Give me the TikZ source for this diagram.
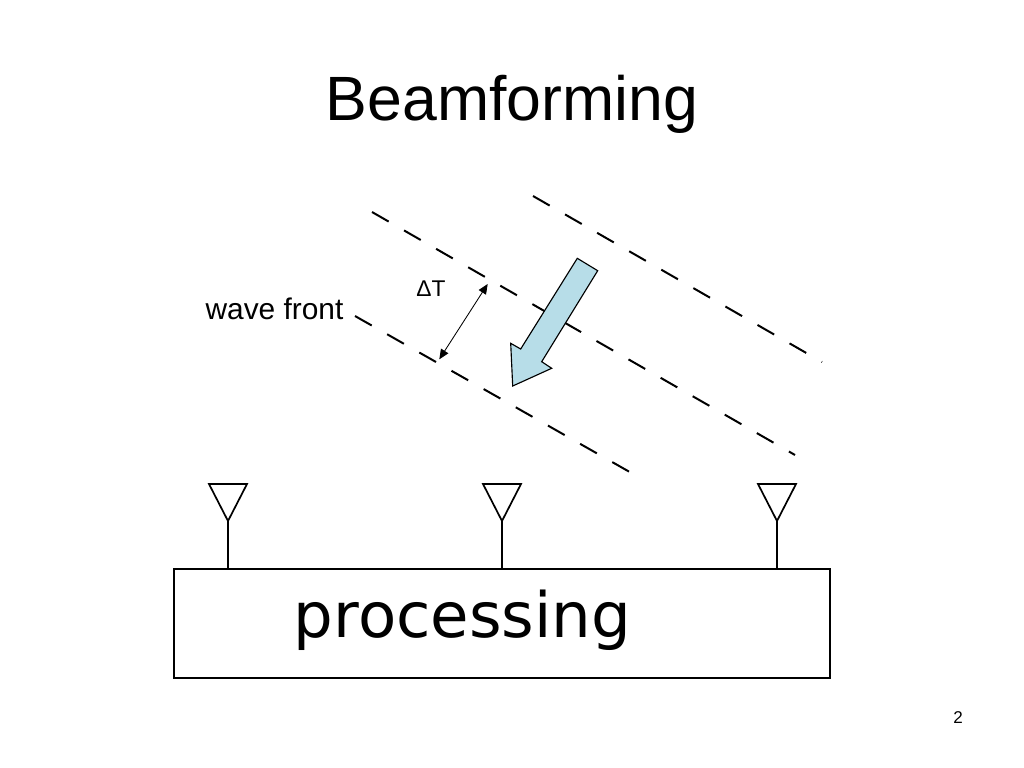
\documentclass[tikz,border=0pt]{standalone}
\usepackage{fontspec}
\setmainfont{Liberation Sans}
\newfontfamily\procfont{DejaVu Sans}
\usetikzlibrary{arrows.meta}
\definecolor{beamblue}{RGB}{183,221,232}
\tikzset{
	wavefront/.style={line width=1.4pt,dash pattern=on 13.5pt off 12.5pt},
	antenna/.style={line width=1.2pt,line join=miter},
}
\begin{document}
\begin{tikzpicture}[x=0.703pt,y=-0.703pt]
	\useasboundingbox (0,0) rectangle (1024,768);
	\node[anchor=base] (title) at (512,120) {\fontsize{44}{50}\selectfont Beamforming};
	% wave fronts
	\draw[wavefront] (533,196) -- (822,362);
	\draw[wavefront] (372,212) -- (795,455);
	\draw[wavefront] (355,316) -- (635,475);
	\node[anchor=base] (wave) at (274.5,319) {\fontsize{21}{25}\selectfont wave front};
	% delay between fronts
	\coordinate (dtA) at (487.7,284);
	\coordinate (dtB) at (439.3,359.3);
	\draw[{Triangle[length=7pt,width=6pt]}-{Triangle[length=7pt,width=6pt]},line width=0.6pt] (dtB) -- (dtA);
	\node[anchor=base] (dt) at (431,296) {\fontsize{16}{19}\selectfont ΔT};
	% direction of arrival
	\draw[fill=beamblue,line width=0.8pt,line join=miter] (577.3,258.3) -- (597.7,270.7) -- (541.7,361.7) -- (551.7,368.3)
		-- (512.7,386) -- (510.7,343.3) -- (520.7,349) -- cycle;
	% array and processing
	\node[draw,line width=0.8pt,minimum width=656*0.703pt,minimum height=109*0.703pt,inner sep=0pt] (box) at (502,623.5) {};
	\node[anchor=base] (proc) at (462.5,637) {\procfont\fontsize{44}{50}\selectfont processing};
	\foreach \ax [count=\i] in {228,502,777}{
		\coordinate (ant\i) at (\ax,521);
		\draw[antenna] (\ax-19,484) -- (\ax+19,484) -- (ant\i) -- cycle;
		\draw[antenna] (ant\i) -- (ant\i |- box.north);
	}
	\node[anchor=base] (page) at (958,723) {\fontsize{12}{14}\selectfont 2};
\end{tikzpicture}
\end{document}
